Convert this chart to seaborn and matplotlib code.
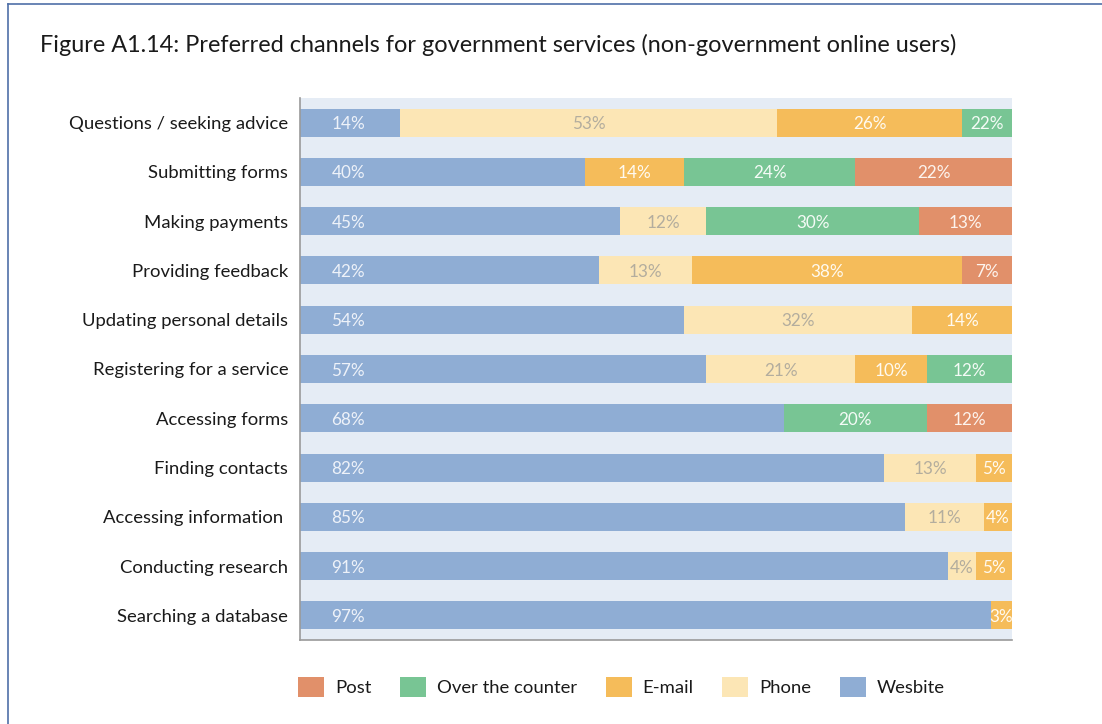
import matplotlib
matplotlib.use("Agg")
import matplotlib.pyplot as plt
from matplotlib.patches import Patch
from matplotlib.lines import Line2D
import numpy as np
import pandas as pd
import seaborn as sns

# Survey results: preferred channel per task (% of non-government online users)
categories = [
    "Questions / seeking advice",
    "Submitting forms",
    "Making payments",
    "Providing feedback",
    "Updating personal details",
    "Registering for a service",
    "Accessing forms",
    "Finding contacts",
    "Accessing information ",
    "Conducting research",
    "Searching a database",
]
website = [14, 40, 45, 42, 54, 57, 68, 82, 85, 91, 97]
phone = [53, 0, 12, 13, 32, 21, 0, 13, 11, 4, 0]
email = [26, 14, 0, 38, 14, 10, 0, 5, 4, 5, 3]
counter = [22, 24, 30, 0, 0, 12, 20, 0, 0, 0, 0]
post = [0, 22, 13, 7, 0, 0, 12, 0, 0, 0, 0]

series_names = ["Wesbite", "Phone", "E-mail", "Over the counter", "Post"]
series_values = [website, phone, email, counter, post]
colors = {
    "Wesbite": "#8FADD4",
    "Phone": "#FCE6B5",
    "E-mail": "#F5BC5A",
    "Over the counter": "#78C594",
    "Post": "#E1906A",
}
label_colors = {
    "Wesbite": "#EEF2F9",
    "Phone": "#B3AD9E",
    "E-mail": "#FFFAF0",
    "Over the counter": "#F4FBF6",
    "Post": "#FDF4EE",
}

FONT = "Lato"
plt.rcParams["font.family"] = [FONT, "DejaVu Sans"]

df = pd.DataFrame({name: vals for name, vals in zip(series_names, series_values)})
df["category"] = categories
cum = df[series_names].cumsum(axis=1)

fig = plt.figure(figsize=(11.02, 7.24), dpi=100)
ax = fig.add_axes([300 / 1102, 1 - 640 / 724, 712 / 1102, 542 / 724])
ax.set_facecolor("#E5ECF5")

# Stacked bars: draw cumulative totals from the outermost segment inwards
for name in reversed(series_names):
    sns.barplot(x=cum[name], y=df["category"], orient="h", color=colors[name],
                saturation=1, width=0.57, linewidth=0, ax=ax)

ax.set_xlim(0, 100)
ax.set_ylim(len(categories) - 0.5, -0.5)
ax.set_xlabel("")
ax.set_ylabel("")
ax.set_xticks([])
ax.tick_params(axis="y", length=0, pad=8.5, labelsize=13.3, labelcolor="#1a1a1a")
for s in ["top", "right"]:
    ax.spines[s].set_visible(False)
for s in ["left", "bottom"]:
    ax.spines[s].set_color("#9A9A9A")
    ax.spines[s].set_linewidth(1.2)

# Segment value labels
for i in range(len(categories)):
    start = 0
    for name, vals in zip(series_names, series_values):
        v = vals[i]
        if v > 0:
            end = start + v
            vis_end = min(end, 100)
            if name == "Wesbite":
                x, ha = 4.4, "left"
            else:
                x, ha = (start + vis_end) / 2, "center"
            ax.text(x, i, f"{v}%", ha=ha, va="center_baseline", fontsize=12.3,
                    color=label_colors[name])
            start = end

fig.text(40 / 1102, 1 - 45 / 724,
         "Figure A1.14: Preferred channels for government services (non-government online users)",
         fontsize=16.9, color="#1a1a1a", va="center", ha="left")

legend_order = ["Post", "Over the counter", "E-mail", "Phone", "Wesbite"]
handles = [Patch(facecolor=colors[n], edgecolor="none", label=n) for n in legend_order]
fig.legend(handles=handles, loc="center left", bbox_to_anchor=(298 / 1102, 1 - 687 / 724),
           ncol=5, frameon=False, fontsize=13.3, handlelength=1.4, handleheight=1.3,
           handletextpad=0.6, columnspacing=1.55, borderpad=0, borderaxespad=0,
           labelcolor="#1a1a1a")

# Page frame lines (left and top)
fig.add_artist(Line2D([8 / 1102, 8 / 1102], [0, 1 - 4 / 724], transform=fig.transFigure,
                      color="#4F6FA8", linewidth=1.2))
fig.add_artist(Line2D([8 / 1102, 1], [1 - 4 / 724, 1 - 4 / 724], transform=fig.transFigure,
                      color="#4F6FA8", linewidth=1.2))

fig.savefig("out.png", dpi=100, facecolor="white")
